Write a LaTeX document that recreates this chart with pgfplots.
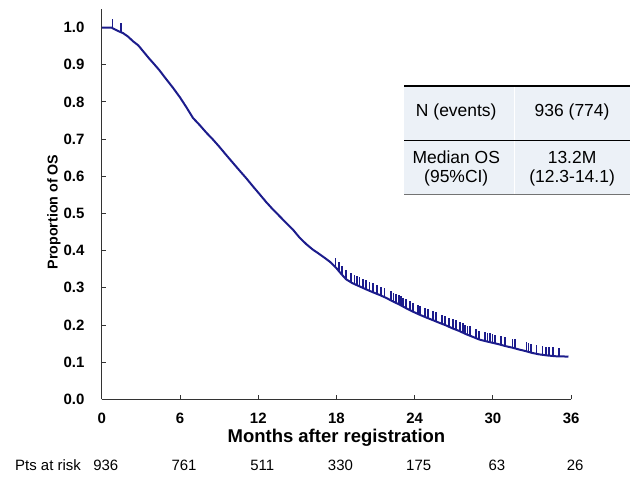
\documentclass[border=0pt]{standalone}
\usepackage{pgfplots}
\pgfplotsset{compat=1.18}
\usepackage{fontspec}
\setmainfont{Liberation Sans}
\definecolor{kmblue}{RGB}{28,28,140}
\definecolor{tblbg}{RGB}{236,241,247}
% censoring tick: short stroke going up from the curve
\pgfdeclareplotmark{cens}{\pgfpathmoveto{\pgfpointorigin}\pgfpathlineto{\pgfpoint{0pt}{9pt}}\pgfusepathqstroke}

\begin{document}
\begin{tikzpicture}
\begin{axis}[
    scale only axis,
    width=470pt, height=391pt,
    xmin=0, xmax=36, ymin=0, ymax=1.05,
    clip=false,
    axis lines=left,
    axis line style={-, draw=black!80, line width=1.1pt},
    xtick={0,6,12,18,24,30,36},
    ytick={0,0.1,0.2,0.3,0.4,0.5,0.6,0.7,0.8,0.9,1.0},
    tick align=inside,
    major tick length=4pt,
    tick style={draw=black!80, line width=1pt},
    /pgf/number format/assume math mode=true,
    ticklabel style={font=\fontsize{15}{18}\selectfont\bfseries},
    yticklabel={\pgfmathprintnumber[fixed,fixed zerofill,precision=1]{\tick}},
    xticklabel style={yshift=-10pt},
    yticklabel style={xshift=-14pt},
    xlabel={Months after registration},
    ylabel={Proportion of OS},
    xlabel style={font=\fontsize{18.5}{22}\selectfont\bfseries, at={(axis description cs:0.5,0)}, anchor=center, yshift=-38pt},
    ylabel style={font=\fontsize{14.3}{17}\selectfont\bfseries, at={(axis description cs:-0.1021,0.48)}, anchor=center},
]
\addplot[kmblue, line width=2pt, mark=none] coordinates {
(0,1.000) (0.74,1.000) (1.0,0.995) (1.3,0.990) (1.63,0.985) (2.0,0.976)
(2.4,0.963) (2.8,0.952) (3.2,0.935) (3.6,0.918) (3.93,0.905) (4.4,0.886)
(4.9,0.863) (5.46,0.838) (6.0,0.812) (6.5,0.785) (6.99,0.757) (7.5,0.738)
(8.0,0.718) (8.52,0.699) (9.0,0.680) (9.5,0.659) (10.06,0.636) (10.6,0.614)
(11.1,0.594) (11.59,0.573) (12.1,0.552) (12.6,0.531) (13.12,0.511) (13.6,0.494)
(14.1,0.476) (14.65,0.457) (15.17,0.435) (15.7,0.417) (16.18,0.403) (16.6,0.393)
(17.08,0.381) (17.5,0.370) (17.97,0.354) (18.35,0.338) (18.74,0.323) (19.2,0.313)
(19.7,0.305) (20.27,0.296) (20.8,0.288) (21.3,0.281) (21.81,0.273) (22.3,0.264)
(22.83,0.255) (23.3,0.246) (23.8,0.237) (24.36,0.228) (24.9,0.220) (25.4,0.213)
(25.89,0.206) (26.4,0.199) (26.9,0.191) (27.42,0.184) (27.9,0.176) (28.4,0.169)
(28.95,0.161) (29.5,0.156) (30.0,0.152) (30.48,0.148) (31.0,0.143) (31.5,0.139)
(32.02,0.134) (32.5,0.130) (33.0,0.125) (33.55,0.121) (34.2,0.118) (34.8,0.116)
(35.8,0.115)
};
% censored patients
\addplot[kmblue, line width=1.8pt, only marks, mark=cens] coordinates {
(0.82,1.000) (1.48,0.987)
(17.92,0.356) (18.18,0.345) (18.43,0.335) (18.74,0.323) (19.12,0.315) (19.38,0.310)
(19.56,0.307) (19.76,0.304) (20.02,0.300) (20.27,0.296) (20.53,0.292) (20.78,0.288)
(21.09,0.284) (21.42,0.279) (21.68,0.275) (22.19,0.266) (22.37,0.263) (22.57,0.260)
(22.78,0.256) (22.95,0.253) (23.13,0.249) (23.34,0.245) (23.64,0.240) (23.9,0.235)
(24.23,0.230) (24.41,0.227) (24.82,0.221) (25.0,0.219) (25.38,0.213) (25.63,0.210)
(26.1,0.203) (26.35,0.200) (26.65,0.195) (26.91,0.191) (27.17,0.188) (27.47,0.183)
(27.68,0.180) (27.88,0.177) (28.06,0.174) (28.24,0.172) (28.7,0.165) (28.95,0.161)
(29.41,0.157) (29.59,0.155) (29.77,0.153) (29.97,0.152) (30.18,0.150) (30.61,0.147)
(30.94,0.144) (31.51,0.139) (31.71,0.137) (32.58,0.129) (32.73,0.128) (32.94,0.126)
(33.34,0.123) (33.8,0.120) (34.06,0.118) (34.31,0.117) (34.62,0.116) (35.08,0.115)
};
\end{axis}

% summary table
\fill[tblbg] (303pt,205pt) rectangle (529pt,314pt);
\draw[white, line width=1pt] (413pt,205pt) -- (413pt,314pt);
\draw[black, line width=2pt] (303pt,314pt) -- (529pt,314pt);
\draw[black, line width=1.2pt] (303pt,259.3pt) -- (529pt,259.3pt);
\draw[black!55, line width=1.5pt] (303pt,205pt) -- (529pt,205pt);
\begin{scope}[every node/.style={font=\fontsize{17.5}{20}\selectfont, inner sep=0pt}]
\node at (355pt,288pt) {N (events)};
\node at (471pt,288pt) {936 (774)};
\node at (355pt,242pt) {Median OS};
\node at (355pt,222pt) {(95\%CI)};
\node at (471pt,242pt) {13.2M};
\node at (471pt,222pt) {(12.3-14.1)};
\end{scope}

% numbers at risk
\begin{scope}[every node/.style={font=\fontsize{15}{18}\selectfont, inner sep=0pt}]
\node[anchor=base west] at (-87pt,-71.4pt) {Pts at risk};
\foreach \m/\n in {0/936,6/761,12/511,18/330,24/175,30/63,36/26}
  \node[anchor=base] at ({\m*13.0556pt+4pt},-71.4pt) {\n};
\end{scope}

\path[use as bounding box] (-102pt,-90pt) rectangle (529pt,400pt);
\end{tikzpicture}
\end{document}
